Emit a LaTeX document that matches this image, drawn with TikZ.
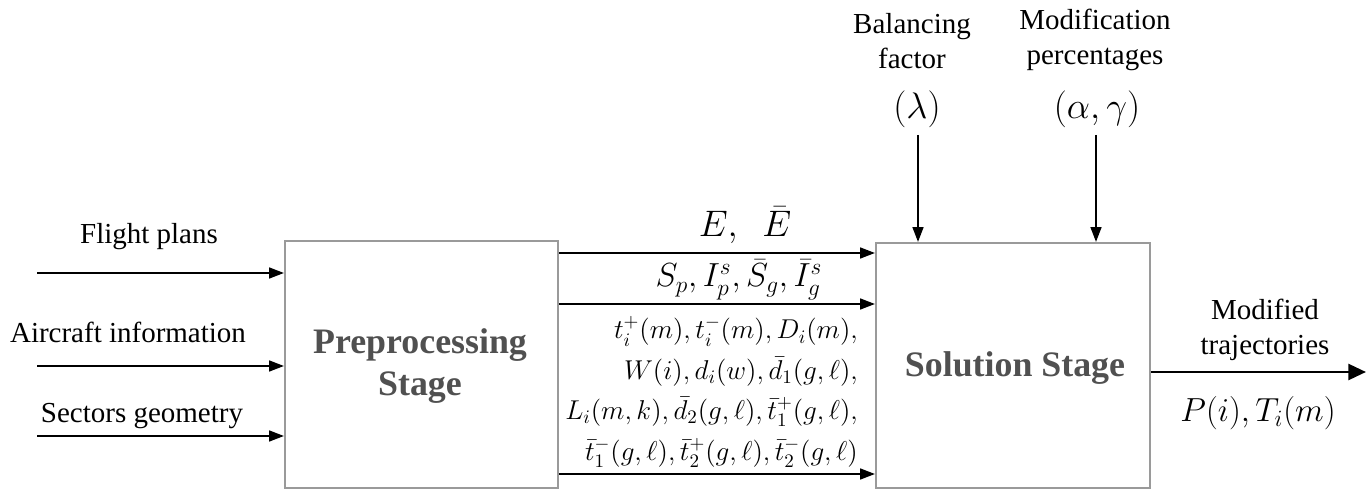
\RequirePackage{fix-cm}
\documentclass[tikz,border=0pt]{standalone}
\usepackage[no-math]{fontspec}
\setmainfont{Liberation Serif}
\usepackage{amsmath}
\usetikzlibrary{positioning, arrows.meta}
\definecolor{boxgray}{HTML}{9A9A9A}
\definecolor{stagegray}{HTML}{505050}

\begin{document}
\begin{tikzpicture}[x=0.02cm, y=-0.02cm,
  every node/.style={font=\fontsize{16.5}{20}\selectfont},
  stagebox/.style={draw=boxgray, line width=1.2pt, inner sep=0pt},
  stagetext/.style={font=\fontsize{20.4}{24}\selectfont\bfseries, text=stagegray, align=center},
  twoline/.style={align=center, font=\fontsize{16.5}{20}\selectfont},
  flow/.style={line width=1.1pt, -{Triangle[length=8.5pt, width=6.2pt]}},
  outflow/.style={line width=1.6pt, -{Triangle[length=10pt, width=9pt]}}]
\useasboundingbox (0,0) rectangle (1372,492);

% ---- stage boxes ----
\node[stagebox, minimum width=5.46cm, minimum height=4.94cm] (pre) at (421.5,364.5) {};
\node[stagetext] at (420,366) (pretext) {Preprocessing\\Stage};
\node[stagebox, minimum width=5.48cm, minimum height=4.90cm] (sol) at (1013,365.5) {};
\node[stagetext] at (1015,368) (soltext) {Solution Stage};

% ---- inputs on the left ----
\coordinate (fp) at (37,273);
\coordinate (ai) at (37,366);
\coordinate (sg) at (37,436);
\node at (149,237) (fplab) {Flight plans};
\node at (128,332) (ailab) {Aircraft information};
\node at (142,416) (sglab) {Sectors geometry};
\draw[flow] (fp) -- (fp -| pre.west);
\draw[flow] (ai) -- (ai -| pre.west);
\draw[flow] (sg) -- (sg -| pre.west);

% ---- links between the stages ----
\coordinate (e1) at (pre.east |- 0,253);
\coordinate (e2) at (pre.east |- 0,304);
\coordinate (e3) at (pre.east |- 0,474);
\draw[flow] (e1) -- (e1 -| sol.west);
\draw[flow] (e2) -- (e2 -| sol.west);
\draw[flow] (e3) -- (e3 -| sol.west);
\node at (745,237) [anchor=base, font=\fontsize{21}{24}\selectfont] (elab) {$E,\ \ \bar{E}$};
\node at (739,287) [anchor=base, font=\fontsize{19}{22}\selectfont] (slab) {$S_p, I_p^s, \bar{S}_g, \bar{I}_g^s$};
\node at (864,392) [anchor=east, align=right, font=\fontsize{15.5}{23}\selectfont] (tlab)
  {$t_i^+(m), t_i^-(m), D_i(m),$\\
   $W(i), d_i(w), \bar{d}_1(g,\ell),$\\
   $L_i(m,k), \bar{d}_2(g,\ell), \bar{t}_1^+(g,\ell),$\\
   $\bar{t}_1^-(g,\ell), \bar{t}_2^+(g,\ell), \bar{t}_2^-(g,\ell)$};

% ---- parameters from the top ----
\node at (912,41) [twoline] (bal) {Balancing\\factor};
\node at (917,109) [font=\fontsize{21}{24}\selectfont] (lam) {$(\lambda)$};
\node at (1095,40) [twoline] (mod) {Modification\\percentages};
\node at (1097,109) [font=\fontsize{21}{24}\selectfont] (ag) {$(\alpha,\gamma)$};
\coordinate (lamtop) at (918,135);
\coordinate (agtop) at (1096,135);
\draw[flow] (lamtop) -- (lamtop |- sol.north);
\draw[flow] (agtop) -- (agtop |- sol.north);

% ---- output ----
\coordinate (out) at (1366,372);
\draw[outflow] (sol.east |- out) -- (out);
\node at (1265,330) [twoline] (otlab) {Modified\\trajectories};
\node at (1258,413) [font=\fontsize{19}{22}\selectfont] (plab) {$P(i), T_i(m)$};
\end{tikzpicture}
\end{document}
